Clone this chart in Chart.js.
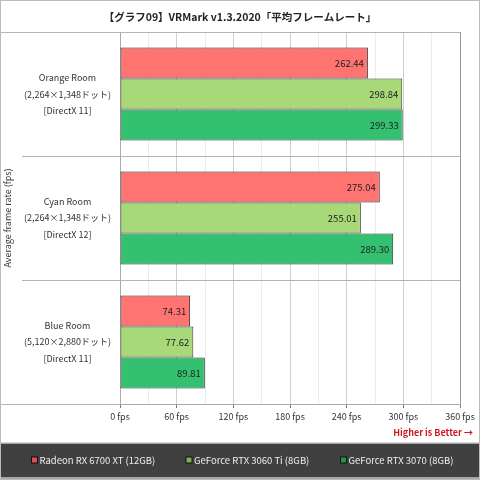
<!DOCTYPE html>
<html>
<head>
<meta charset="utf-8">
<script src="https://cdn.jsdelivr.net/npm/chart.js@4.4.0/dist/chart.umd.min.js"></script>
<style>
  html, body { margin: 0; padding: 0; background: #fff; }
  #wrap { width: 480px; height: 480px; position: relative; }
</style>
</head>
<body>
<div id="wrap"><canvas id="fpsChart"></canvas></div>
<script>
// categories (multi-line labels)
const rooms = [
    ['Orange Room', '(2,264×1,348ドット)', '[DirectX 11]'],
    ['Cyan Room', '(2,264×1,348ドット)', '[DirectX 12]'],
    ['Blue Room', '(5,120×2,880ドット)', '[DirectX 11]']
];

const gpuNames = ['Radeon RX 6700 XT (12GB)', 'GeForce RTX 3060 Ti (8GB)', 'GeForce RTX 3070 (8GB)'];

// average fps per room
const radeon6700xt = [262.44, 275.04, 74.31];
const rtx3060ti = [298.84, 255.01, 77.62];
const rtx3070 = [299.33, 289.30, 89.81];

// labelled ticks on the fps axis
const fpsTicks = [0, 60, 120, 180, 240, 300, 360];

const barColors = ['#ff7370', '#a8d878', '#33c070'];
const edgeColors = ['#222222', '#33402a', '#1f3a28'];
const legendColors = ['#e05050', '#80b050', '#209850'];

const FONT = "'Noto Sans CJK JP', 'Noto Sans', sans-serif";
Chart.defaults.font.family = FONT;
Chart.defaults.font.size = 9;
Chart.defaults.color = '#333';

// value written inside the end of each bar
const valueLabels = {
    id: 'valueLabels',
    afterDatasetsDraw(chart) {
        const ctx = chart.ctx;
        ctx.save();
        ctx.font = '9.5px ' + FONT;
        ctx.fillStyle = '#222';
        ctx.textAlign = 'right';
        ctx.textBaseline = 'middle';
        chart.data.datasets.forEach((ds, i) => {
            chart.getDatasetMeta(i).data.forEach((bar, j) => {
                ctx.fillText(ds.data[j].toFixed(2), bar.x - 4, bar.y);
            });
        });
        ctx.restore();
    }
};

// legend band, lines reaching into the label column, frame and the note
const framePlugin = {
    id: 'framePlugin',
    beforeDraw(chart) {
        const ctx = chart.ctx;
        const w = chart.width, h = chart.height;
        ctx.save();
        ctx.fillStyle = '#fff';
        ctx.fillRect(0, 0, w, h);
        ctx.fillStyle = '#404040';
        ctx.fillRect(0, h - 37, w, 37);
        ctx.strokeStyle = '#c8c8c8';
        ctx.lineWidth = 1.5;
        ctx.beginPath();
        ctx.moveTo(0, h - 37);
        ctx.lineTo(w, h - 37);
        ctx.moveTo(0, h - 2);
        ctx.lineTo(w, h - 2);
        ctx.stroke();
        ctx.restore();
    },
    afterDraw(chart) {
        const ctx = chart.ctx;
        const area = chart.chartArea;
        const y = chart.scales.y;
        ctx.save();
        ctx.strokeStyle = '#b4b4b4';
        ctx.lineWidth = 1;
        ctx.beginPath();
        ctx.moveTo(0, Math.round(area.top) + 0.5);
        ctx.lineTo(area.left, Math.round(area.top) + 0.5);
        ctx.moveTo(0, Math.round(area.bottom) + 0.5);
        ctx.lineTo(area.left, Math.round(area.bottom) + 0.5);
        for (let i = 0; i < rooms.length - 1; i++) {
            const yy = Math.round((y.getPixelForValue(i) + y.getPixelForValue(i + 1)) / 2) + 0.5;
            ctx.moveTo(22, yy);
            ctx.lineTo(area.left, yy);
        }
        ctx.stroke();

        ctx.font = 'bold 9px ' + FONT;
        ctx.fillStyle = '#cc1a22';
        ctx.textAlign = 'right';
        ctx.textBaseline = 'middle';
        ctx.fillText('Higher is Better →', chart.width - 7, area.bottom + 29);

        // legend: fixed-width slots across the dark band
        const ly = chart.height - 20;
        ctx.font = '9.5px ' + FONT;
        ctx.textAlign = 'left';
        chart.data.datasets.forEach((ds, i) => {
            const lx = 31.5 + i * 154.5;
            ctx.fillStyle = legendColors[i];
            ctx.fillRect(lx, ly - 3, 6, 6);
            ctx.strokeStyle = '#111';
            ctx.strokeRect(lx, ly - 3, 6, 6);
            ctx.fillStyle = '#eeeeee';
            ctx.fillText(ds.label, lx + 8, ly);
        });

        ctx.strokeStyle = '#bbbbbb';
        ctx.strokeRect(0.5, 0.5, chart.width - 1, chart.height - 1);
        ctx.restore();
    }
};

const ctx = document.getElementById('fpsChart').getContext('2d');

new Chart(ctx, {
    type: 'bar',
    data: {
        labels: rooms,
        datasets: [
            { label: gpuNames[0], data: radeon6700xt, backgroundColor: barColors[0], borderColor: edgeColors[0] },
            { label: gpuNames[1], data: rtx3060ti, backgroundColor: barColors[1], borderColor: edgeColors[1] },
            { label: gpuNames[2], data: rtx3070, backgroundColor: barColors[2], borderColor: edgeColors[2] }
        ]
    },
    options: {
        indexAxis: 'y',
        responsive: true,
        maintainAspectRatio: false,
        animation: false,
        layout: {
            padding: { left: 0, right: 0, top: 0, bottom: 37 }
        },
        datasets: {
            bar: {
                categoryPercentage: 0.75,
                barPercentage: 1.0,
                borderWidth: 1,
                borderSkipped: false
            }
        },
        plugins: {
            title: {
                display: true,
                text: '【グラフ09】VRMark v1.3.2020「平均フレームレート」',
                color: '#222',
                font: { size: 10.5, weight: 'bold' },
                padding: { top: 10.5, bottom: 9 }
            },
            legend: { display: false },
            tooltip: { enabled: false }
        },
        scales: {
            x: {
                min: 0,
                max: 360,
                ticks: {
                    stepSize: 30,
                    autoSkip: false,
                    maxRotation: 0,
                    padding: 3,
                    color: '#333',
                    callback: (v) => fpsTicks.includes(v) ? v + ' fps' : ''
                },
                grid: {
                    tickLength: 4,
                    color: (c) => {
                        const v = c.tick ? c.tick.value : 0;
                        if (v === 0) return '#aaaaaa';
                        if (v === 360) return '#999999';
                        return v % 60 === 0 ? '#d0d0d0' : '#ececec';
                    },
                    tickColor: (c) => (c.tick && c.tick.value % 60 === 0) ? '#777' : 'rgba(0,0,0,0)'
                },
                border: { color: '#aaaaaa' },
                afterFit: (s) => { s.height = 39; s.paddingRight = 20; }
            },
            y: {
                ticks: {
                    crossAlign: 'center',
                    padding: 9,
                    color: '#333',
                    font: { size: 9, lineHeight: 1.83 }
                },
                grid: {
                    offset: true,
                    drawTicks: false,
                    color: '#b4b4b4'
                },
                border: { color: '#aaaaaa' },
                title: {
                    display: true,
                    text: 'Average frame rate (fps)',
                    color: '#333',
                    font: { size: 9 },
                    padding: { top: 2, bottom: 0 }
                },
                afterFit: (s) => { s.width = 120; s.paddingTop = 0; s.paddingBottom = 0; }
            }
        }
    },
    plugins: [valueLabels, framePlugin]
});
</script>
</body>
</html>
